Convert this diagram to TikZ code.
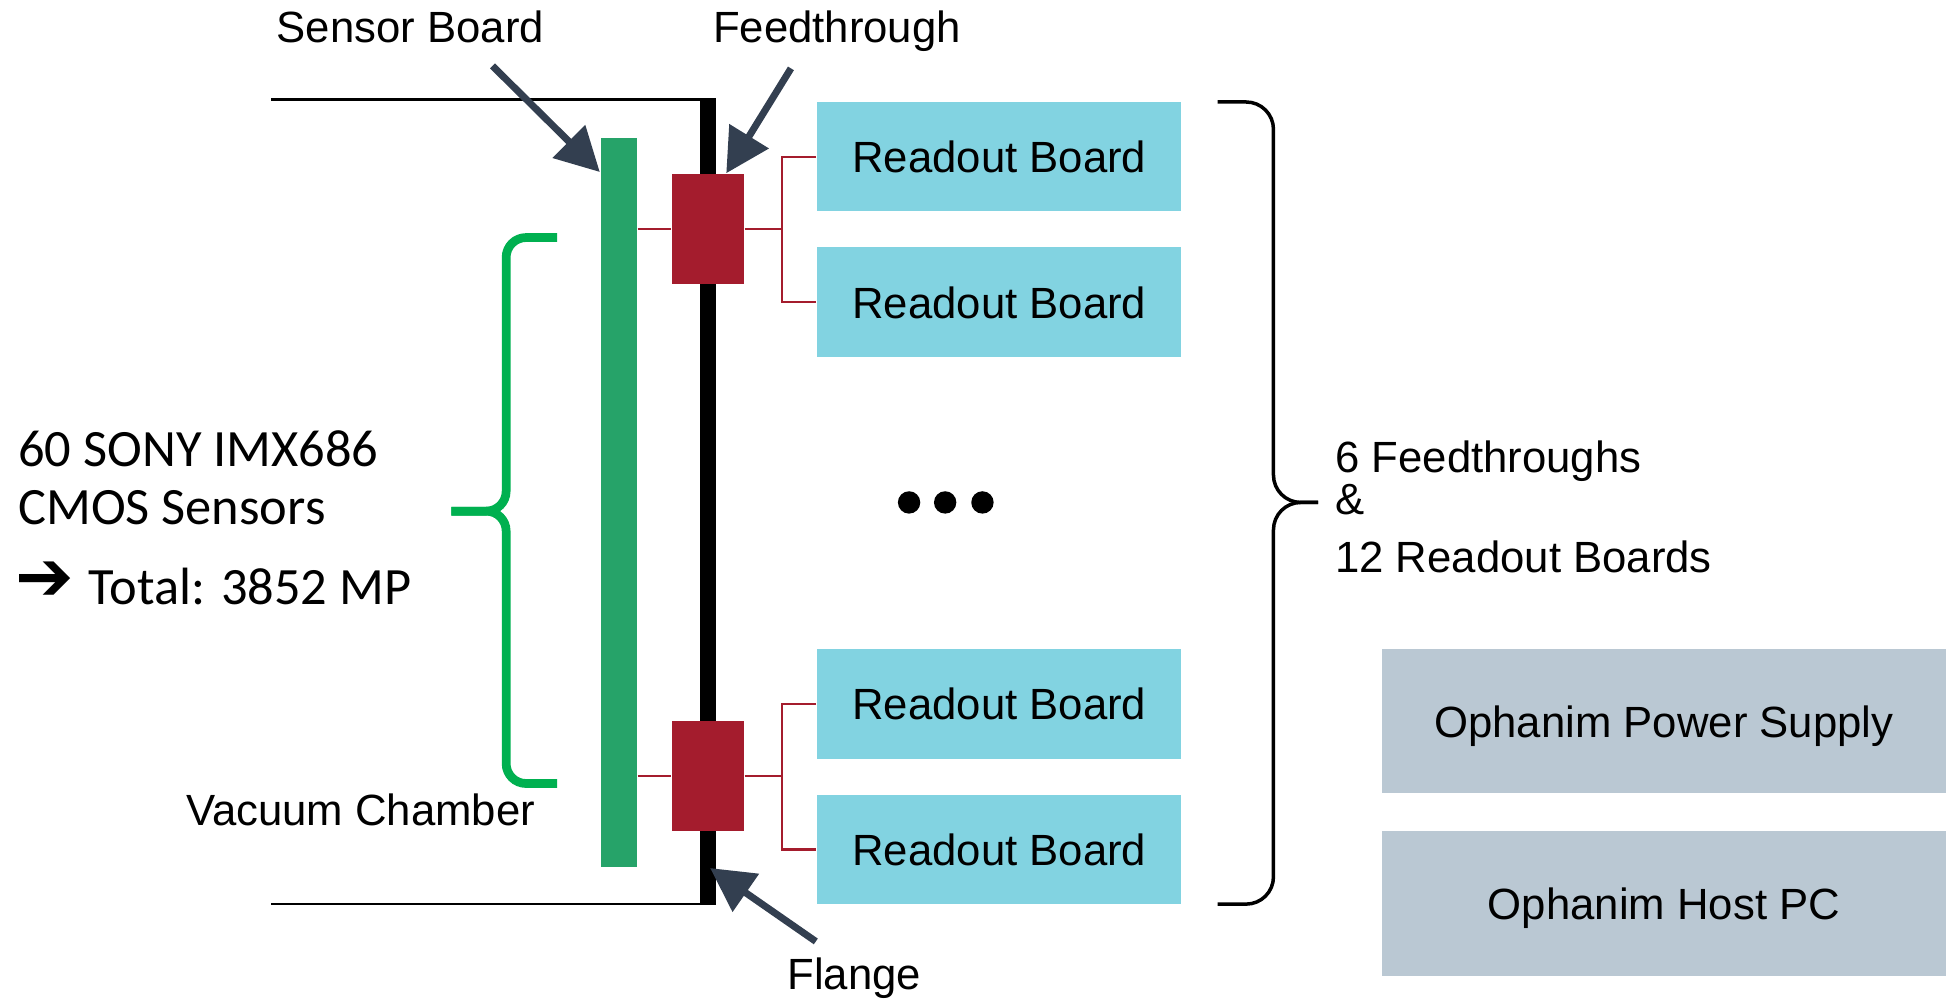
\documentclass[tikz,border=0pt]{standalone}
\usepackage{fontspec}
\setmainfont{Liberation Sans}
\newfontfamily\calibri{Carlito}
\newfontfamily\dejavu{DejaVu Sans}
\usepackage{tikz}
\usetikzlibrary{positioning, arrows.meta}

\definecolor{roblue}{RGB}{130,211,225}
\definecolor{hostgray}{RGB}{186,200,211}
\definecolor{ftred}{RGB}{164,28,45}
\definecolor{sbgreen}{RGB}{38,163,105}
\definecolor{bracegreen}{RGB}{0,176,80}
\definecolor{slate}{RGB}{51,63,80}

\tikzset{
  readout/.style={fill=roblue, minimum width=29.3mm, minimum height=8.8mm, inner sep=0pt, text depth=0pt},
  hostbox/.style={fill=hostgray, minimum width=45.4mm, minimum height=11.6mm, inner sep=0pt, text depth=0pt},
  ftbox/.style={fill=ftred, minimum width=5.8mm, minimum height=8.8mm, inner sep=0pt},
  wire/.style={ftred, line width=0.5pt},
  callout/.style={slate, line width=1.6pt, -{Triangle[length=3.5mm,width=3.6mm]}},
  plaintext/.style={inner sep=0pt},
}

\begin{document}
\begin{tikzpicture}[x=0.1mm, y=-0.1mm, font=\fontsize{10}{11.5}\selectfont]
        \useasboundingbox (0,0) rectangle (1568,804);
        % Vacuum chamber and flange
        \draw[line width=0.6pt] (218,80) -- (570,80);
        \draw[line width=0.6pt] (218,727) -- (570,727);
        \draw[line width=1.3mm] (569.5,79) -- (569.5,728);
        % Sensor board and feedthroughs
        \node[fill=sbgreen, minimum width=2.9mm, minimum height=58.6mm, inner sep=0pt] (sensor) at (497.5,404) {};
        \node[ftbox] (ft1) at (569,184) {};
        \node[ftbox] (ft2) at (569,624) {};
        % Readout boards
        \node[readout] (ro1) at (803.5,126) {Readout Board};
        \node[readout] (ro2) at (803.5,243) {Readout Board};
        \node[readout] (ro3) at (803.5,566) {Readout Board};
        \node[readout] (ro4) at (803.5,683) {Readout Board};
        \foreach \x in {731,760,790} \fill (\x,404) circle (9);
        % Host side
        \node[hostbox] (psu) at (1338,580) {Ophanim Power Supply};
        \node[hostbox] (hostpc) at (1338,726.5) {Ophanim Host PC};
        % Wiring
        \draw[wire] (sensor.east |- ft1.west) -- (ft1.west);
        \draw[wire] (ft1.east) -- ++(30,0) coordinate (br1);
        \draw[wire] (ro1.west) -| (br1) |- (ro2.west);
        \draw[wire] (sensor.east |- ft2.west) -- (ft2.west);
        \draw[wire] (ft2.east) -- ++(30,0) coordinate (br2);
        \draw[wire] (ro3.west) -| (br2) |- (ro4.west);
        % Callouts
        \node[plaintext, anchor=base] (sblabel) at (330,34.5) {Sensor Board};
        \coordinate (sbtail) at (396,53);
        \draw[callout] (sbtail) -- ([yshift=-2.8mm]sensor.north west);
        \node[plaintext, anchor=base] (ftlabel) at (673,34.5) {Feedthrough};
        \coordinate (fttail) at (636,55);
        \draw[callout] (fttail) -- ([xshift=1.5mm]ft1.north);
        \node[plaintext, anchor=base] (flabel) at (687,796) {Flange};
        \coordinate (ftail) at (656,757);
        \coordinate (fhit) at (571,698);
        \draw[callout] (ftail) -- (fhit);
        \node[plaintext, anchor=base] (vclabel) at (290,664) {Vacuum Chamber};
        % Braces
        \draw[bracegreen, line width=2pt, rounded corners=1.6mm] (448,191) -| (407,411) -- (363,411);
        \draw[bracegreen, line width=2pt, rounded corners=1.6mm] (448,630) -| (407,411) -- (363,411);
        \draw[line width=0.8pt, rounded corners=2.2mm] (979,82) -| (1024,404) -- (1060,404);
        \draw[line width=0.8pt, rounded corners=2.2mm] (979,727) -| (1024,404) -- (1060,404);
        % Labels
        \node[plaintext, anchor=west, align=left] (summary) at (1073,407.5) {6 Feedthroughs\\[-0.6mm]\&\\[0.6mm]12 Readout Boards};
        \node[plaintext, anchor=west, align=left, font=\calibri\fontsize{12}{13.4}\selectfont] (count) at (14,384) {60 SONY IMX686\\CMOS Sensors};
        \node[plaintext, anchor=base west, font=\calibri\fontsize{12}{14}\selectfont] (total) at (12,486) {{\dejavu\bfseries\fontsize{16}{16}\selectfont\raisebox{0.3mm}{➔}}\hspace{0.2mm} Total: 3852 MP};
\end{tikzpicture}
\end{document}
